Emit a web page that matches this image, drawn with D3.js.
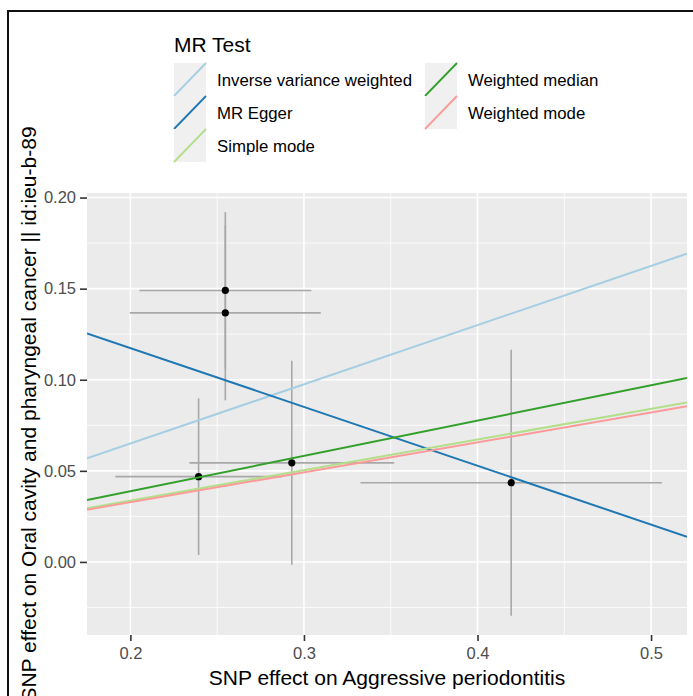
<!DOCTYPE html>
<html>
<head>
<meta charset="utf-8">
<script src="https://cdn.jsdelivr.net/npm/d3@7"></script>
<style>
  html, body { margin: 0; padding: 0; background: #ffffff; }
  svg { display: block; font-family: "Liberation Sans", Arial, sans-serif; }
</style>
</head>
<body>
<svg id="chart" width="693" height="696"></svg>
<script>
// ---- data ----
const snpX     = [0.2547, 0.2547, 0.2393, 0.2930, 0.4194];
const snpY     = [0.1490, 0.1367, 0.0468, 0.0544, 0.0435];
const snpXse   = [0.0495, 0.0550, 0.0480, 0.0590, 0.0868];
const snpYse   = [0.0430, 0.0480, 0.0430, 0.0560, 0.0730];

const methods    = ["Inverse variance weighted", "MR Egger", "Simple mode", "Weighted median", "Weighted mode"];
const intercepts = [0, 0.182, 0, 0, 0];
const slopes     = [0.325, -0.323, 0.168, 0.194, 0.164];
const colors     = ["#A6CEE3", "#1F78B4", "#B2DF8A", "#33A02C", "#FB9A99"];

const xTicks = [0.2, 0.3, 0.4, 0.5];
const xMinor = [0.25, 0.35, 0.45];
const yTicks = [0.00, 0.05, 0.10, 0.15, 0.20];
const yMinor = [-0.025, 0.025, 0.075, 0.125, 0.175];

const xTitle = "SNP effect on Aggressive periodontitis";
const yTitle = "SNP effect on Oral cavity and pharyngeal cancer || id:ieu-b-89";
const legendTitle = "MR Test";

// ---- layout ----
const panel = { left: 87, right: 687, top: 193, bottom: 635 };
const svg = d3.select("#chart");

const x = d3.scaleLinear().domain([0.175, 0.5207]).range([panel.left, panel.right]);
const y = d3.scaleLinear().domain([-0.0401, 0.2025]).range([panel.bottom, panel.top]);

// outer frame (cropped figure border)
svg.append("line").attr("x1", 8).attr("x2", 693).attr("y1", 11).attr("y2", 11)
  .attr("stroke", "#111").attr("stroke-width", 2);
svg.append("line").attr("x1", 8).attr("x2", 8).attr("y1", 10).attr("y2", 696)
  .attr("stroke", "#111").attr("stroke-width", 2);

// panel background
svg.append("rect").attr("x", panel.left).attr("y", panel.top)
  .attr("width", panel.right - panel.left).attr("height", panel.bottom - panel.top)
  .attr("fill", "#ebebeb");

const grid = svg.append("g");
grid.selectAll(".ymin").data(yMinor).join("line")
  .attr("x1", panel.left).attr("x2", panel.right)
  .attr("y1", d => y(d)).attr("y2", d => y(d))
  .attr("stroke", "#fff").attr("stroke-width", 0.8);
grid.selectAll(".xmin").data(xMinor).join("line")
  .attr("y1", panel.top).attr("y2", panel.bottom)
  .attr("x1", d => x(d)).attr("x2", d => x(d))
  .attr("stroke", "#fff").attr("stroke-width", 0.8);
grid.selectAll(".ymaj").data(yTicks).join("line")
  .attr("x1", panel.left).attr("x2", panel.right)
  .attr("y1", d => y(d)).attr("y2", d => y(d))
  .attr("stroke", "#fff").attr("stroke-width", 1.6);
grid.selectAll(".xmaj").data(xTicks).join("line")
  .attr("y1", panel.top).attr("y2", panel.bottom)
  .attr("x1", d => x(d)).attr("x2", d => x(d))
  .attr("stroke", "#fff").attr("stroke-width", 1.6);

// clip
svg.append("clipPath").attr("id", "clip").append("rect")
  .attr("x", panel.left).attr("y", panel.top)
  .attr("width", panel.right - panel.left).attr("height", panel.bottom - panel.top);
const plot = svg.append("g").attr("clip-path", "url(#clip)");

const idx = d3.range(snpX.length);
// vertical error bars
plot.selectAll(".ev").data(idx).join("line")
  .attr("x1", i => x(snpX[i])).attr("x2", i => x(snpX[i]))
  .attr("y1", i => y(snpY[i] - snpYse[i])).attr("y2", i => y(snpY[i] + snpYse[i]))
  .attr("stroke", "#a8a8a8").attr("stroke-width", 1.6);
// horizontal error bars
plot.selectAll(".eh").data(idx).join("line")
  .attr("y1", i => y(snpY[i])).attr("y2", i => y(snpY[i]))
  .attr("x1", i => x(snpX[i] - snpXse[i])).attr("x2", i => x(snpX[i] + snpXse[i]))
  .attr("stroke", "#a8a8a8").attr("stroke-width", 1.6);
// points
plot.selectAll(".pt").data(idx).join("circle")
  .attr("cx", i => x(snpX[i])).attr("cy", i => y(snpY[i]))
  .attr("r", 3.6).attr("fill", "#000");

// regression lines
const [x0, x1] = x.domain();
plot.selectAll(".ab").data(d3.range(methods.length)).join("line")
  .attr("x1", x(x0)).attr("x2", x(x1))
  .attr("y1", i => y(intercepts[i] + slopes[i] * x0))
  .attr("y2", i => y(intercepts[i] + slopes[i] * x1))
  .attr("stroke", i => colors[i]).attr("stroke-width", 2);

// axes
const xAxis = svg.append("g").attr("transform", `translate(0,${panel.bottom})`)
  .call(d3.axisBottom(x).tickValues(xTicks).tickFormat(d3.format(".1f")).tickSize(6).tickPadding(6));
const yAxis = svg.append("g").attr("transform", `translate(${panel.left},0)`)
  .call(d3.axisLeft(y).tickValues(yTicks).tickFormat(d3.format(".2f")).tickSize(7).tickPadding(4));
[xAxis, yAxis].forEach(a => {
  a.select(".domain").remove();
  a.selectAll(".tick line").attr("stroke", "#333").attr("stroke-width", 1.6);
  a.selectAll(".tick text").attr("fill", "#4d4d4d")
    .style("font-size", "16.5px").style("font-family", "'Liberation Sans', Arial, sans-serif");
});

// axis titles
svg.append("text").attr("x", (panel.left + panel.right) / 2).attr("y", 685)
  .attr("text-anchor", "middle").attr("font-size", 21).attr("fill", "#000").text(xTitle);
svg.append("text").attr("transform", `translate(36,${(panel.top + panel.bottom) / 2}) rotate(-90)`)
  .attr("text-anchor", "middle").attr("font-size", 21).attr("fill", "#000").text(yTitle);

// legend
const leg = svg.append("g");
leg.append("text").attr("x", 174).attr("y", 52).attr("font-size", 21).attr("fill", "#000").text(legendTitle);
const keySize = 32, keyH = 33;
const cols = [{ x: 174, items: [0, 1, 2] }, { x: 425, items: [3, 4] }];
cols.forEach(c => {
  c.items.forEach((mi, r) => {
    const ky = 63 + r * keyH;
    const g = leg.append("g");
    g.append("rect").attr("x", c.x).attr("y", ky).attr("width", keySize).attr("height", keyH)
      .attr("fill", "#f0f0f0");
    g.append("line").attr("x1", c.x).attr("y1", ky + keyH).attr("x2", c.x + keySize).attr("y2", ky)
      .attr("stroke", colors[mi]).attr("stroke-width", 1.8);
    g.append("text").attr("x", c.x + keySize + 11).attr("y", ky + keyH / 2 + 6)
      .attr("font-size", 16.8).attr("fill", "#000").text(methods[mi]);
  });
});
</script>
</body>
</html>
